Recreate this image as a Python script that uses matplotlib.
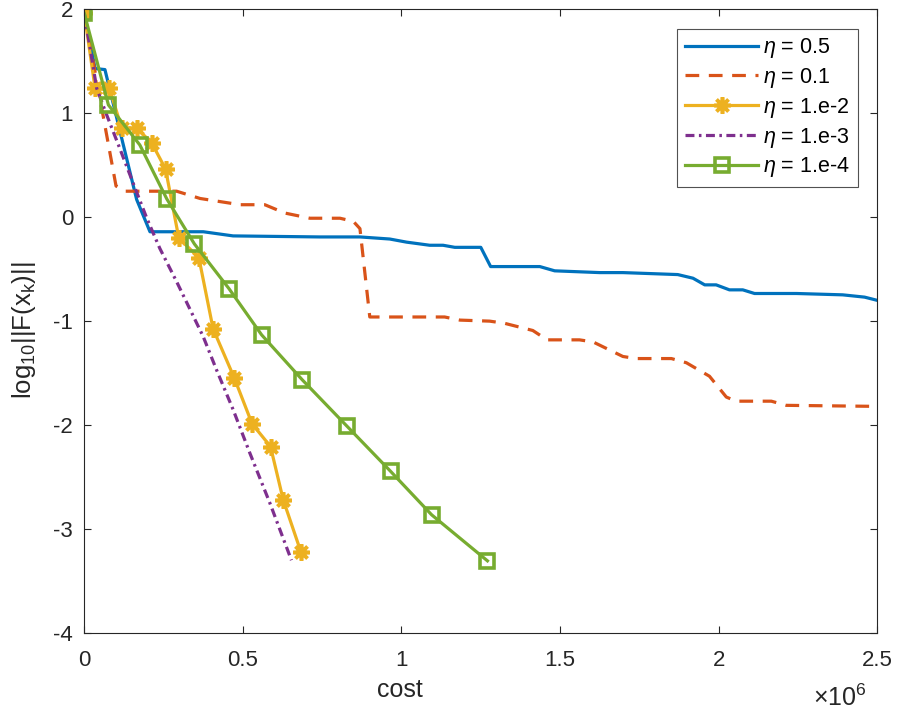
import matplotlib

matplotlib.use("Agg")
import matplotlib.pyplot as plt

# cost values are in units of 1e6 (the axis carries a x10^6 factor)
cost_05 = [0, 0.034, 0.065, 0.165, 0.207, 0.375, 0.469, 0.742, 0.869, 0.963,
           1.016, 1.089, 1.131, 1.168, 1.250, 1.281, 1.436, 1.483, 1.625,
           1.698, 1.871, 1.919, 1.956, 1.992, 2.034, 2.076, 2.113, 2.245,
           2.391, 2.460, 2.5]
res_05 = [1.96, 1.43, 1.42, 0.17, -0.14, -0.14, -0.18, -0.19, -0.19, -0.21,
          -0.24, -0.27, -0.27, -0.29, -0.29, -0.475, -0.475, -0.516, -0.533,
          -0.533, -0.552, -0.587, -0.651, -0.651, -0.699, -0.699, -0.734,
          -0.734, -0.747, -0.769, -0.80]

cost_01 = [0, 0.10, 0.128, 0.291, 0.365, 0.428, 0.491, 0.569, 0.632, 0.711,
           0.806, 0.848, 0.869, 0.900, 1.136, 1.184, 1.278, 1.324, 1.414,
           1.459, 1.561, 1.604, 1.698, 1.740, 1.851, 1.898, 1.971, 2.024,
           2.055, 2.166, 2.213, 2.5]
res_01 = [1.96, 0.30, 0.25, 0.25, 0.18, 0.15, 0.12, 0.12, 0.04, -0.01, -0.01,
          -0.04, -0.11, -0.96, -0.96, -0.99, -1.00, -1.02, -1.09, -1.18,
          -1.18, -1.20, -1.34, -1.36, -1.36, -1.40, -1.53, -1.73, -1.77,
          -1.77, -1.81, -1.82]

cost_1e2 = [0, 0.034, 0.079, 0.118, 0.165, 0.212, 0.256, 0.298, 0.361,
            0.406, 0.473, 0.529, 0.587, 0.627, 0.683]
res_1e2 = [1.96, 1.24, 1.24, 0.856, 0.856, 0.717, 0.464, -0.202, -0.388,
           -1.074, -1.548, -1.988, -2.206, -2.718, -3.221]

cost_1e3 = [0, 0.039, 0.071, 0.112, 0.160, 0.197, 0.238, 0.291, 0.375,
            0.417, 0.469, 0.522, 0.585, 0.653]
res_1e3 = [1.96, 1.24, 0.98, 0.66, 0.28, -0.01, -0.30, -0.62, -1.15, -1.47,
           -1.85, -2.27, -2.75, -3.30]

cost_1e4 = [0, 0.076, 0.175, 0.260, 0.347, 0.456, 0.559, 0.687, 0.827,
            0.966, 1.095, 1.271]
res_1e4 = [1.96, 1.080, 0.695, 0.176, -0.257, -0.687, -1.132, -1.564,
           -2.007, -2.446, -2.863, -3.306]

labels = [r"$\eta$ = 0.5", r"$\eta$ = 0.1", r"$\eta$ = 1.e-2",
          r"$\eta$ = 1.e-3", r"$\eta$ = 1.e-4"]

x_ticks = [0, 0.5, 1, 1.5, 2, 2.5]
x_tick_labels = ["0", "0.5", "1", "1.5", "2", "2.5"]
y_ticks = [-4, -3, -2, -1, 0, 1, 2]

plt.rcParams["font.family"] = ["Liberation Sans", "DejaVu Sans"]
plt.rcParams["mathtext.fontset"] = "custom"
plt.rcParams["mathtext.rm"] = "Liberation Sans"
plt.rcParams["mathtext.it"] = "Liberation Sans:italic"
plt.rcParams["mathtext.bf"] = "Liberation Sans:bold"
plt.rcParams["axes.unicode_minus"] = False

AX_COLOR = "#262626"

fig = plt.figure(figsize=(8.97, 7.15), dpi=100)
ax = fig.add_axes([0.094, 0.1147, 0.884, 0.8723])

lw = 2.3
ax.plot(cost_05, res_05, color="#0072BD", lw=lw, label=labels[0])
ax.plot(cost_01, res_01, color="#D95319", lw=lw, dashes=(4.3, 3.0),
        label=labels[1])
ax.plot(cost_1e2, res_1e2, color="#EDB120", lw=lw, marker=(8, 2, 0),
        ms=12, mew=2.6, label=labels[2])
ax.plot(cost_1e3, res_1e3, color="#7E2F8E", lw=lw,
        dashes=(2.8, 1.4, 0.8, 1.4), label=labels[3])
ax.plot(cost_1e4, res_1e4, color="#77AC30", lw=lw, marker="s", ms=10,
        mew=2.6, mfc="none", label=labels[4])

ax.set_xlim(0, 2.5)
ax.set_ylim(-4, 2)
ax.set_xticks(x_ticks)
ax.set_xticklabels(x_tick_labels)
ax.set_yticks(y_ticks)

ax.tick_params(direction="in", top=True, right=True, length=5, width=0.8,
               labelsize=16, colors=AX_COLOR)
ax.tick_params(axis="x", pad=12)
ax.tick_params(axis="y", pad=8)
for sp in ax.spines.values():
    sp.set_color(AX_COLOR)
    sp.set_linewidth(0.8)

ax.set_xlabel("cost", fontsize=18, color=AX_COLOR)
ax.xaxis.set_label_coords(0.398, -0.072)
ax.set_ylabel(r"log$_{10}$||F(x$_{\rm k}$)||", fontsize=18.5, color=AX_COLOR)
ax.yaxis.set_label_coords(-0.058, 0.485)

fig.text(0.966, 0.012, r"$\times$10$^{6}$", ha="right", va="baseline",
         fontsize=18, color=AX_COLOR)

leg = ax.legend(loc="upper right", fontsize=15.5, handlelength=3.4,
                handletextpad=0.25, labelspacing=0.27, borderpad=0.35,
                borderaxespad=0.9, frameon=True, fancybox=False)
leg.get_frame().set_edgecolor(AX_COLOR)
leg.get_frame().set_linewidth(0.8)

fig.savefig("out.png", dpi=100)
